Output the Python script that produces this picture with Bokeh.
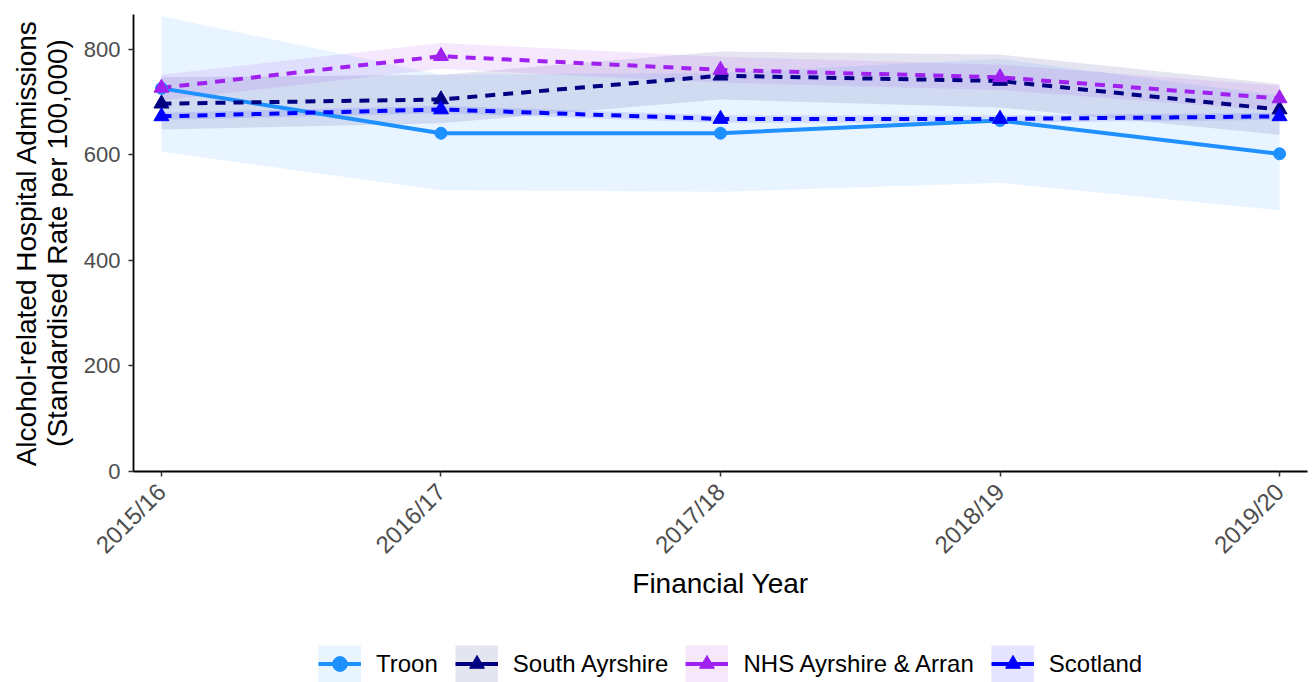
import math
from bokeh.plotting import figure
from bokeh.layouts import column
from bokeh.models import Range1d, FixedTicker, Legend, LegendItem, ColumnDataSource
from bokeh.embed import file_html
from bokeh.resources import INLINE

years = ["2015/16", "2016/17", "2017/18", "2018/19", "2019/20"]

troon = [726, 641, 641, 665, 602]
troon_lo = [606, 533, 530, 547, 495]
troon_hi = [863, 752, 755, 782, 712]

south = [697, 705, 750, 740, 686]
south_lo = [648, 660, 705, 690, 638]
south_hi = [747, 752, 796, 790, 734]

nhs = [727, 787, 761, 747, 707]
nhs_lo = [703, 763, 737, 723, 683]
nhs_hi = [752, 812, 786, 771, 731]

scot = [673, 686, 668, 668, 673]
scot_lo = [666, 679, 661, 661, 666]
scot_hi = [680, 693, 675, 675, 680]

series = [
    ("Troon", troon, troon_lo, troon_hi, "#1E90FF", "solid", "circle", 12),
    ("South Ayrshire", south, south_lo, south_hi, "#000080", "10 8", "triangle", 15),
    ("NHS Ayrshire & Arran", nhs, nhs_lo, nhs_hi, "#A020F0", "10 8", "triangle", 15),
    ("Scotland", scot, scot_lo, scot_hi, "#0000FF", "10 8", "triangle", 15),
]

xpos = list(range(1, len(years) + 1))
FONT = "Liberation Sans"

p = figure(width=1313, height=640, output_backend="svg", toolbar_location=None,
           x_range=Range1d(0.9, 5.1), y_range=Range1d(0, 866),
           min_border_left=133, min_border_right=6, min_border_top=14, min_border_bottom=169)
p.outline_line_color = None
p.xgrid.visible = False
p.ygrid.visible = False
p.background_fill_color = "white"

# ribbons
for name, v, lo, hi, col, dash, mk, sz in series:
    src = ColumnDataSource(dict(x=xpos, lo=lo, hi=hi))
    p.varea(x="x", y1="lo", y2="hi", source=src, fill_color=col, fill_alpha=0.1)

for name, v, lo, hi, col, dash, mk, sz in series:
    src = ColumnDataSource(dict(x=xpos, y=v))
    p.line(x="x", y="y", source=src, line_color=col, line_width=4, line_dash=dash)
for name, v, lo, hi, col, dash, mk, sz in series:
    src = ColumnDataSource(dict(x=xpos, y=v))
    p.scatter(x="x", y="y", source=src, marker=mk, size=sz, fill_color=col, line_color=col)

# axes
p.xaxis.ticker = FixedTicker(ticks=xpos)
p.xaxis.major_label_overrides = {x: y for x, y in zip(xpos, years)}
p.xaxis.major_label_orientation = math.pi / 4
p.yaxis.ticker = FixedTicker(ticks=[0, 200, 400, 600, 800])
for ax in (p.xaxis, p.yaxis):
    ax.axis_line_color = "black"
    ax.axis_line_width = 1.8
    ax.major_tick_line_color = "#333333"
    ax.major_tick_line_width = 1.5
    ax.major_tick_out = 5
    ax.major_tick_in = 0
    ax.minor_tick_line_color = None
    ax.major_label_text_font = FONT
    ax.major_label_text_font_size = "22px"
    ax.major_label_text_color = "#4D4D4D"
    ax.axis_label_text_font = FONT
    ax.axis_label_text_font_size = "28px"
    ax.axis_label_text_font_style = "normal"
    ax.axis_label_text_color = "black"

p.xaxis.major_label_text_font_size = "24px"
p.xaxis.axis_label = "Financial Year"
p.xaxis.major_label_standoff = 11
p.xaxis.axis_label_standoff = -3
p.yaxis.axis_label = "Alcohol-related Hospital Admissions\n(Standardised Rate per 100,000)"
p.yaxis.axis_label_text_line_height = 1.0
p.yaxis.major_label_standoff = 8
p.yaxis.axis_label_standoff = 8

# legend strip (keys only; dummy renderers sit outside the visible range)
lg = figure(width=1313, height=42, output_backend="svg", toolbar_location=None,
            x_range=Range1d(0, 1), y_range=Range1d(0, 1),
            x_axis_type=None, y_axis_type=None,
            min_border_left=0, min_border_right=0, min_border_top=0, min_border_bottom=0)
lg.outline_line_color = None
lg.xgrid.visible = False
lg.ygrid.visible = False

items = []
for name, v, lo, hi, col, dash, mk, sz in series:
    k = lg.line(x=[-5], y=[-5], line_color=col, line_alpha=0.1, line_width=37, line_cap="butt")
    ln = lg.line(x=[-5], y=[-5], line_color=col, line_width=4)
    mr = lg.scatter(x=[-5], y=[-5], marker=mk, size=sz, fill_color=col, line_color=col)
    items.append(LegendItem(label=name, renderers=[k, ln, mr]))

legend = Legend(items=items, orientation="horizontal", location=(185, 0),
                glyph_width=43, glyph_height=37, label_standoff=15, spacing=17,
                padding=0, margin=0, border_line_color=None, background_fill_alpha=0,
                label_text_font_size="24px", label_text_font=FONT, label_text_color="black")
lg.add_layout(legend, "center")

open("out.html", "w").write(file_html(column(p, lg, spacing=0), INLINE))
